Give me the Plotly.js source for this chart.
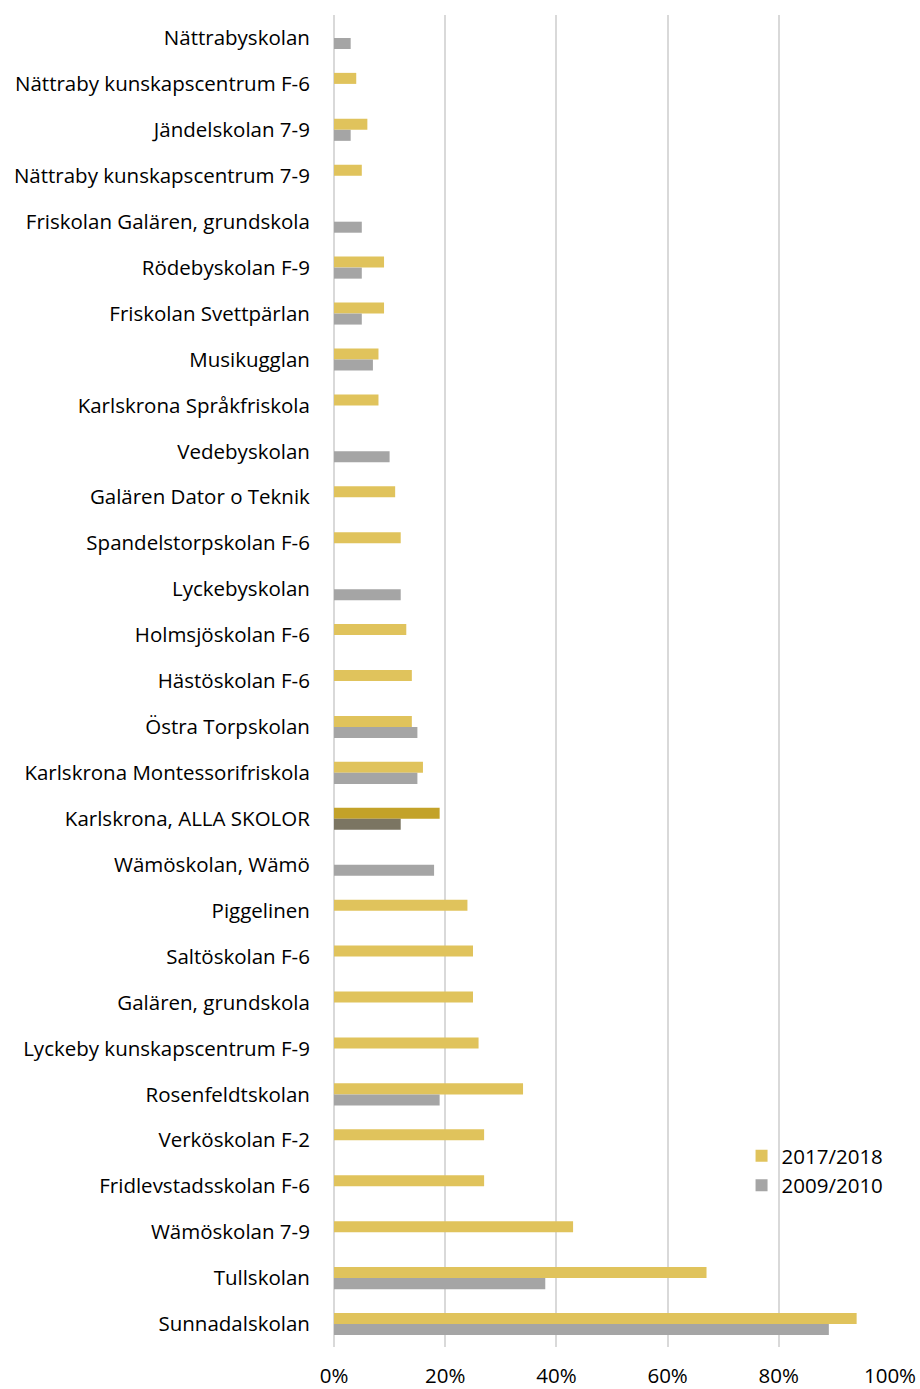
<!DOCTYPE html>
<html>
<head>
<meta charset="utf-8">
<script src="https://cdn.plot.ly/plotly-3.0.1.min.js"></script>
<style>html,body{margin:0;padding:0;background:#fff;}#chart{width:920px;height:1389px;}</style>
</head>
<body>
<div id="chart"></div>
<script>
const schools = [
  "Nättrabyskolan",
  "Nättraby kunskapscentrum F-6",
  "Jändelskolan 7-9",
  "Nättraby kunskapscentrum 7-9",
  "Friskolan Galären, grundskola",
  "Rödebyskolan F-9",
  "Friskolan Svettpärlan",
  "Musikugglan",
  "Karlskrona Språkfriskola",
  "Vedebyskolan",
  "Galären Dator o Teknik",
  "Spandelstorpskolan F-6",
  "Lyckebyskolan",
  "Holmsjöskolan F-6",
  "Hästöskolan F-6",
  "Östra Torpskolan",
  "Karlskrona Montessorifriskola",
  "Karlskrona, ALLA SKOLOR",
  "Wämöskolan, Wämö",
  "Piggelinen",
  "Saltöskolan F-6",
  "Galären, grundskola",
  "Lyckeby kunskapscentrum F-9",
  "Rosenfeldtskolan",
  "Verköskolan F-2",
  "Fridlevstadsskolan F-6",
  "Wämöskolan 7-9",
  "Tullskolan",
  "Sunnadalskolan"
];
// values in fraction (0..1); null = no bar
const v2017 = [null,0.04,0.06,0.05,null,0.09,0.09,0.08,0.08,null,0.11,0.12,null,0.13,0.14,0.14,0.16,0.19,null,0.24,0.25,0.25,0.26,0.34,0.27,0.27,0.43,0.67,0.94];
const v2009 = [0.03,null,0.03,null,0.05,0.05,0.05,0.07,null,0.10,null,null,0.12,null,null,0.15,0.15,0.12,0.18,null,null,null,null,0.19,null,null,null,0.38,0.89];
const seriesNames = ["2017/2018","2009/2010"];
const xTicks = [0,0.2,0.4,0.6,0.8,1.0];
const xTickText = ["0%","20%","40%","60%","80%","100%"];

const highlight = "Karlskrona, ALLA SKOLOR";
const col2017 = schools.map(s => s === highlight ? "#C3A229" : "#E0C35C");
const col2009 = schools.map(s => s === highlight ? "#7B7562" : "#A5A5A5");

const font = "'Open Sans', sans-serif";

const traces = [
  {type:"bar", orientation:"h", name:seriesNames[0], y:schools, x:v2017,
   marker:{color:col2017, line:{width:0}}, hoverinfo:"x+y"},
  {type:"bar", orientation:"h", name:seriesNames[1], y:schools, x:v2009,
   marker:{color:col2009, line:{width:0}}, hoverinfo:"x+y"}
];

const layout = {
  width:920, height:1389,
  margin:{l:334, r:30, t:15, b:42},
  paper_bgcolor:"#fff", plot_bgcolor:"#fff",
  barmode:"group", bargap:0.52, bargroupgap:0,
  font:{family:font, size:20.5, color:"#000"},
  showlegend:true,
  legend:{x:0.733, y:0.1585, xanchor:"left", yanchor:"top",
          font:{family:font, size:20.5, color:"#000"},
          bgcolor:"rgba(0,0,0,0)", tracegroupgap:0, itemwidth:30},
  xaxis:{range:[0,1.0], tickvals:xTicks, ticktext:xTickText,
         showgrid:true, gridcolor:"#D9D9D9", gridwidth:2,
         zeroline:true, zerolinecolor:"#D9D9D9", zerolinewidth:2,
         showline:false, ticks:"outside", ticklen:10, tickcolor:"rgba(0,0,0,0)",
         tickfont:{family:font, size:20.5, color:"#000"}, fixedrange:true},
  yaxis:{type:"category", autorange:"reversed", showgrid:false, zeroline:false,
         showline:false, ticks:"outside", ticklen:19, tickcolor:"rgba(0,0,0,0)",
         tickfont:{family:font, size:20.5, color:"#000"}, fixedrange:true}
};
Plotly.newPlot("chart", traces, layout, {displayModeBar:false, staticPlot:true});
</script>
</body>
</html>
